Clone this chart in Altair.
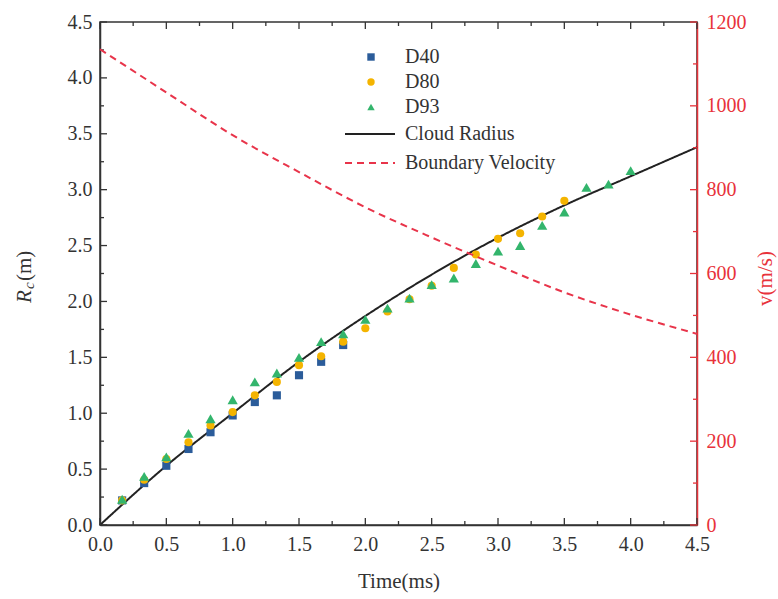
import altair as alt
import pandas as pd

# ---- data ----
t_curve = [0.0, 0.5, 1.0, 1.5, 2.0, 2.5, 3.0, 3.5, 4.0, 4.5]
cloud_radius = [0.0, 0.53, 1.0, 1.46, 1.87, 2.24, 2.57, 2.86, 3.12, 3.38]
boundary_velocity = [1135, 1032, 930, 842, 758, 686, 619, 555, 502, 456]

t_exp = [0.167, 0.333, 0.5, 0.667, 0.833, 1.0, 1.167, 1.333, 1.5, 1.667, 1.833, 2.0,
         2.167, 2.333, 2.5, 2.667, 2.833, 3.0, 3.167, 3.333, 3.5, 3.667, 3.833, 4.0]
d40 = [0.22, 0.375, 0.53, 0.68, 0.83, 0.98, 1.10, 1.16, 1.34, 1.46, 1.61]
d80 = [0.22, 0.405, 0.59, 0.74, 0.89, 1.01, 1.16, 1.28, 1.43, 1.51, 1.64, 1.76, 1.91,
       2.02, 2.14, 2.30, 2.42, 2.56, 2.61, 2.76, 2.90]
d93 = [0.23, 0.435, 0.61, 0.82, 0.95, 1.12, 1.28, 1.36, 1.50, 1.64, 1.71, 1.84, 1.94,
       2.03, 2.15, 2.21, 2.34, 2.45, 2.50, 2.68, 2.80, 3.02, 3.05, 3.17]

series_names = ["D40", "D80", "D93"]
series_colors = ["#2b5c9a", "#f4b400", "#33b56c"]
series_shapes = ["square", "circle", "triangle-up"]
curve_names = ["Cloud Radius", "Boundary Velocity"]
curve_colors = ["#222222", "#e8344a"]

x_ticks_major = [0.0, 0.5, 1.0, 1.5, 2.0, 2.5, 3.0, 3.5, 4.0, 4.5]
x_ticks_minor = [0.25, 0.75, 1.25, 1.75, 2.25, 2.75, 3.25, 3.75, 4.25]
yl_ticks_major = [0.0, 0.5, 1.0, 1.5, 2.0, 2.5, 3.0, 3.5, 4.0, 4.5]
yl_ticks_minor = [0.25, 0.75, 1.25, 1.75, 2.25, 2.75, 3.25, 3.75, 4.25]
yr_ticks_major = [0, 200, 400, 600, 800, 1000, 1200]
yr_ticks_minor = [100, 300, 500, 700, 900, 1100]

# ---- tables ----
rows = []
for name, vals in zip(series_names, [d40, d80, d93]):
    for t, r in zip(t_exp, vals):
        rows.append({"t": t, "r": r, "series": name})
pts_df = pd.DataFrame(rows)
radius_df = pd.DataFrame({"t": t_curve, "r": cloud_radius, "curve": "Cloud Radius"})
vel_df = pd.DataFrame({"t": t_curve, "v": boundary_velocity, "curve": "Boundary Velocity"})

W, H = 597, 503
AX = "#333333"
RED = "#e8323a"
FONT = "Liberation Serif"

xscale = alt.Scale(domain=[0, 4.5], nice=False, zero=False)
xaxis = alt.Axis(values=x_ticks_major, format=".1f", ticks=False, grid=False,
                 title="Time(ms)", labelPadding=9, titleY=62, titleBaseline="alphabetic",
                 domainColor=AX, domainWidth=1.5, labelFlush=False, labelColor=AX,
                 labelFont=FONT, labelFontSize=20, titleFont=FONT,
                 titleColor=AX, titleFontWeight="normal", titleFontSize=21)
ylscale = alt.Scale(domain=[0, 4.5], nice=False, zero=False)
ylaxis = alt.Axis(values=yl_ticks_major, format=".1f", ticks=False, grid=False, title=None,
                  labelPadding=8, domainColor=AX, domainWidth=1.5, labelFlush=False,
                  labelFont=FONT, labelFontSize=20, labelColor=AX)
yrscale = alt.Scale(domain=[0, 1200], nice=False, zero=False)
yraxis = alt.Axis(orient="right", values=yr_ticks_major, format="d", ticks=False, grid=False,
                  title="v(m/s)", titleColor=RED, titleAngle=270, titleX=74, titleY=256,
                  titleAlign="center", titleBaseline="alphabetic", titleFontWeight="normal",
                  titleFont=FONT, titleFontSize=21, labelPadding=9, labelColor=RED,
                  labelFont=FONT, labelFontSize=20, domainColor=RED,
                  domainWidth=1.5, labelFlush=False)


def X(f="t"):
    return alt.X(f"{f}:Q", scale=xscale, axis=xaxis)


def YL(f="r"):
    return alt.Y(f"{f}:Q", scale=ylscale, axis=ylaxis)


def YR(f="v"):
    return alt.Y(f"{f}:Q", scale=yrscale, axis=yraxis)


pt_legend = alt.Legend(title=None, orient="none", legendX=261, legendY=25, padding=0,
                       symbolSize=55, labelOffset=24, rowPadding=5, labelFont=FONT,
                       labelFontSize=20, labelColor=AX, symbolStrokeWidth=0)
line_legend = alt.Legend(title=None, orient="none", legendX=260, legendY=102, padding=0,
                         symbolType="M-5,0H5", symbolSize=100, symbolStrokeWidth=2,
                         labelOffset=25, rowPadding=9, labelFont=FONT, labelFontSize=20,
                         labelColor=AX)

fill_scale = alt.Scale(domain=series_names, range=series_colors)
shape_scale = alt.Scale(domain=series_names, range=series_shapes)
stroke_scale = alt.Scale(domain=curve_names, range=curve_colors)
dash_scale = alt.Scale(domain=curve_names, range=[[1, 0], [7, 5]])

pt_base = alt.Chart(pts_df).encode(
    x=X(), y=YL(),
    fill=alt.Fill("series:N", scale=fill_scale, legend=pt_legend),
    shape=alt.Shape("series:N", scale=shape_scale, legend=pt_legend),
)
points_sq_ci = pt_base.mark_point(filled=True, opacity=1, size=66, strokeWidth=0).transform_filter(
    alt.datum.series != "D93")
points_tri = pt_base.mark_point(filled=True, opacity=1, size=105, strokeWidth=0).transform_filter(
    alt.datum.series == "D93")

radius_line = alt.Chart(radius_df).mark_line(strokeWidth=2, interpolate="monotone").encode(
    x=X(), y=YL(),
    stroke=alt.Stroke("curve:N", scale=stroke_scale, legend=line_legend),
    strokeDash=alt.StrokeDash("curve:N", scale=dash_scale, legend=line_legend),
)

vel_line = alt.Chart(vel_df).mark_line(strokeWidth=2, interpolate="monotone").encode(
    x=X(), y=YR(),
    stroke=alt.Stroke("curve:N", scale=stroke_scale, legend=line_legend),
    strokeDash=alt.StrokeDash("curve:N", scale=dash_scale, legend=line_legend),
)

# inward ticks
yl_maj = alt.Chart(pd.DataFrame({"r": yl_ticks_major})).mark_rule(color=AX, strokeWidth=1.3).encode(
    y=YL(), x=alt.value(0), x2=alt.value(7))
yl_min = alt.Chart(pd.DataFrame({"r": yl_ticks_minor})).mark_rule(color=AX, strokeWidth=1.3).encode(
    y=YL(), x=alt.value(0), x2=alt.value(4))
xb_maj = alt.Chart(pd.DataFrame({"t": x_ticks_major})).mark_rule(color=AX, strokeWidth=1.3).encode(
    x=X(), y=alt.value(H), y2=alt.value(H - 7))
xb_min = alt.Chart(pd.DataFrame({"t": x_ticks_minor})).mark_rule(color=AX, strokeWidth=1.3).encode(
    x=X(), y=alt.value(H), y2=alt.value(H - 4))
xt_maj = alt.Chart(pd.DataFrame({"t": x_ticks_major})).mark_rule(color=AX, strokeWidth=1.3).encode(
    x=X(), y=alt.value(0), y2=alt.value(7))
xt_min = alt.Chart(pd.DataFrame({"t": x_ticks_minor})).mark_rule(color=AX, strokeWidth=1.3).encode(
    x=X(), y=alt.value(0), y2=alt.value(4))
yr_maj = alt.Chart(pd.DataFrame({"v": yr_ticks_major})).mark_rule(color=RED, strokeWidth=1.3).encode(
    y=YR(), x=alt.value(W), x2=alt.value(W - 7))
yr_min = alt.Chart(pd.DataFrame({"v": yr_ticks_minor})).mark_rule(color=RED, strokeWidth=1.3).encode(
    y=YR(), x=alt.value(W), x2=alt.value(W - 4))

# left axis title R_c(m) built from pieces
title_R = alt.Chart(pd.DataFrame({"s": ["R"]})).mark_text(
    angle=270, align="left", baseline="alphabetic", font=FONT, fontSize=21,
    fontStyle="italic", color=AX).encode(text="s:N", x=alt.value(-69), y=alt.value(281))
title_c = alt.Chart(pd.DataFrame({"s": ["c"]})).mark_text(
    angle=270, align="left", baseline="alphabetic", font=FONT, fontSize=15,
    fontStyle="italic", color=AX).encode(text="s:N", x=alt.value(-66), y=alt.value(267))
title_m = alt.Chart(pd.DataFrame({"s": ["(m)"]})).mark_text(
    angle=270, align="left", baseline="alphabetic", font=FONT, fontSize=21,
    color=AX).encode(text="s:N", x=alt.value(-69), y=alt.value(259))

left = alt.layer(radius_line, points_sq_ci, points_tri, yl_maj, yl_min, xb_maj, xb_min,
                 xt_maj, xt_min, title_R, title_c, title_m)
right = alt.layer(vel_line, yr_maj, yr_min)

chart = alt.layer(left, right).resolve_scale(y="independent").properties(
    width=W, height=H,
    padding={"left": 100, "top": 22, "right": 81, "bottom": 74},
    autosize=alt.AutoSizeParams(type="none"),
    background="white",
).configure(font=FONT).configure_view(stroke=AX, strokeWidth=1.5).configure_legend(
    labelFont=FONT, labelFontSize=20, labelColor=AX
)

chart.save("out.html", embed_options={"renderer": "svg", "actions": False})
